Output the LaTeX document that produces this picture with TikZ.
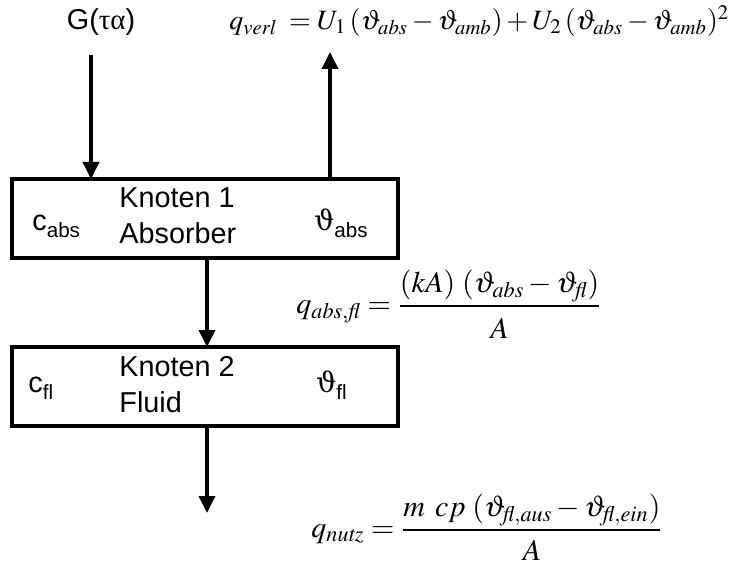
\documentclass[tikz,border=0pt]{standalone}
\usepackage{amsmath}
\usepackage{mathptmx}
\usepackage[no-math]{fontspec}
\setmainfont{Liberation Sans}
\newfontfamily\grkfont{Liberation Serif}
\newfontfamily\thfont{DejaVu Serif}
\usetikzlibrary{arrows.meta}
\newcommand\lsub[1]{\raisebox{-0.45ex}{\fontsize{10.3}{11}\selectfont #1}}
\newcommand\thsym{{\thfont\fontsize{14}{15}\selectfont ϑ}}
\tikzset{
  nodebox/.style={draw, line width=1.8pt},
  flow/.style={line width=1.8pt, -{Triangle[length=8.5pt,width=8pt]}},
  lab/.style={font=\fontsize{14.4}{17}\selectfont, inner sep=0pt},
  eq/.style={font=\fontsize{14}{17}\selectfont, inner sep=0pt, anchor=west},
  eqf/.style={font=\fontsize{15}{18}\selectfont, inner sep=0pt, anchor=west}
}
\begin{document}
\begin{tikzpicture}[x=0.5pt,y=-0.5pt]
\useasboundingbox (0,0) rectangle (731,566);
% boxes
\draw[nodebox] (12,179) rectangle (398,258);
\draw[nodebox] (12,347) rectangle (398,426);
\coordinate (b1top) at (91,179);
\coordinate (b1topr) at (330,179);
\coordinate (b1bot) at (207,258);
\coordinate (b2top) at (207,347);
\coordinate (b2bot) at (207,426);
\coordinate (gstart) at (91,55);
\coordinate (upend) at (330,52);
\coordinate (outend) at (207,513);
% labels
\node[lab] (G) at (101,22) {G({\grkfont τα})};
\node[lab, anchor=west] (cabs) at (32,226) {c\lsub{abs}};
\node[lab, anchor=west, align=left] (k1) at (119,216) {Knoten 1\\[1pt]Absorber};
\node[lab, anchor=west] (thabs) at (314,223) {\thsym\lsub{abs}};
\node[lab, anchor=west] (cfl) at (28,388) {c\lsub{fl}};
\node[lab, anchor=west, align=left] (k2) at (119,385) {Knoten 2\\[1pt]Fluid};
\node[lab, anchor=west] (thfl) at (316,385) {\thsym\lsub{fl}};
% arrows
\draw[flow] (gstart) -- (b1top);
\draw[flow] (b1topr) -- (upend);
\draw[flow] (b1bot) -- (b2top);
\draw[flow] (b2bot) -- (outend);
% formulas
\node[eq] (qverl) at (229,21) {$q_{\mathit{verl}}\;=U_1\,(\vartheta_{\mathit{abs}}-\vartheta_{\mathit{amb}})+U_2\,(\vartheta_{\mathit{abs}}-\vartheta_{\mathit{amb}})^2$};
\node[eqf] (qabs) at (296,304) {$q_{\mathit{abs},\mathit{fl}}=\dfrac{(kA)\;(\vartheta_{\mathit{abs}}-\vartheta_{\mathit{fl}})\rule[-3pt]{0pt}{0pt}}{\rule{0pt}{14pt}A}$};
\node[eqf] (qnutz) at (311,527) {$q_{\mathit{nutz}}=\dfrac{m\;\,cp\;(\vartheta_{\mathit{fl},\mathit{aus}}-\vartheta_{\mathit{fl},\mathit{ein}})\rule[-3pt]{0pt}{0pt}}{\rule{0pt}{13pt}A}$};
\end{tikzpicture}
\end{document}
